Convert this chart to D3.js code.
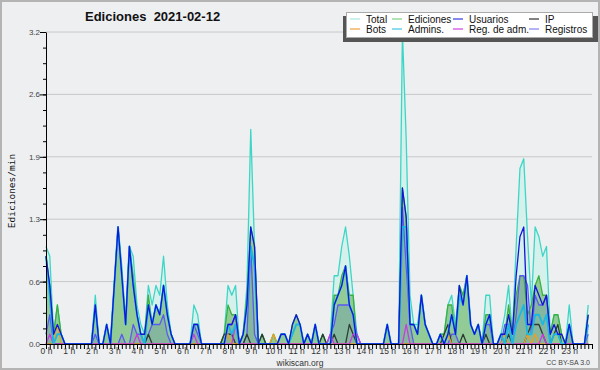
<!DOCTYPE html>
<html>
<head>
<meta charset="utf-8">
<script src="https://cdn.jsdelivr.net/npm/d3@7"></script>
<style>
  body { margin: 0; background: #eeeff1; }
  svg { display: block; }
</style>
</head>
<body>
<div id="container"></div>
<script>
// edits per minute, one value per 10 minutes (144 points), 4 hours per row
var total = [
  1.0,0.9,0.1,0.4,0.1,0, 0,0,0,0,0,0, 0,0.5,0,0,0.2,0, 0.6,1.2,0.8,0.2,1.0,0.9,
  0.4,0.2,0.1,0.6,0.4,0.6, 0.5,0.9,0.4,0.1,0,0, 0,0,0,0.4,0.3,0, 0,0,0,0,0,0.1,
  0.6,0.5,0.6,0,0.1,0.6, 2.2,1.0,0,0.1,0,0, 0.1,0,0.1,0.1,0,0.2, 0.3,0.2,0,0.1,0,0.2,
  0,0.1,0,0.1,0.7,0.7, 1.0,1.2,0.9,0.5,0.1,0, 0,0,0,0,0,0, 0.2,0,0,0,3.2,2.1,
  0.5,0.2,0.2,0.5,0.2,0.1, 0,0,0.1,0.1,0.4,0.5, 0.2,0.6,0.5,0.7,0.2,0.1, 0.2,0,0.5,0.5,0,0,
  0.1,0.3,0.6,0.1,1.0,1.8, 1.9,1.1,0.4,1.2,1.1,0.9, 1.0,0.1,0.3,0.3,0.1,0, 0.4,0,0,0,0,0.4
];
var ediciones = [
  0.9,0.6,0.1,0.4,0.1,0, 0,0,0,0,0,0, 0,0.4,0,0,0.2,0, 0.6,1.2,0.7,0.2,1.0,0.7,
  0.3,0.1,0.1,0.5,0.2,0.4, 0.3,0.6,0.3,0.1,0,0, 0,0,0,0.2,0.2,0, 0,0,0,0,0,0.1,
  0.4,0.3,0.3,0,0.1,0.5, 1.2,1.0,0,0.1,0,0, 0.1,0,0.1,0.1,0,0.2, 0.3,0.2,0,0.1,0,0.2,
  0,0.1,0,0,0.5,0.5, 0.7,0.8,0.5,0.5,0,0, 0,0,0,0,0,0, 0.2,0,0,0,1.6,1.3,
  0.2,0.2,0.1,0.5,0.2,0.1, 0,0,0.1,0.1,0.4,0.4, 0.1,0.6,0.5,0.7,0.2,0.1, 0.2,0,0.3,0.3,0,0,
  0.1,0.1,0.4,0.1,0.5,0.7, 0.7,0.3,0.4,0.6,0.7,0.5, 0.5,0.1,0.3,0.3,0.1,0, 0.2,0,0,0,0,0.3
];
var usuarios = [
  0.9,0.6,0.1,0.2,0.1,0, 0,0,0,0,0,0, 0,0.4,0,0,0.2,0, 0.6,1.2,0.7,0.2,1.0,0.6,
  0.3,0.1,0.1,0.4,0.2,0.4, 0.3,0.6,0.3,0.1,0,0, 0,0,0,0.2,0.2,0, 0,0,0,0,0,0,
  0.2,0.2,0.3,0,0.1,0.4, 1.2,1.0,0,0,0,0, 0,0,0.1,0.1,0,0.2, 0.3,0.2,0,0.1,0,0.2,
  0,0,0,0,0.4,0.5, 0.6,0.8,0.4,0.3,0,0, 0,0,0,0,0,0, 0.2,0,0,0,1.6,1.3,
  0.2,0.2,0.1,0.5,0.2,0.1, 0,0,0.1,0,0.1,0.3, 0.1,0.6,0.4,0.7,0.2,0.1, 0.2,0,0.2,0.3,0,0,
  0.1,0.1,0.3,0.1,0.7,1.1, 1.2,0.2,0.2,0.6,0.5,0.4, 0.5,0.1,0.2,0.1,0.1,0, 0.2,0,0,0,0,0.3
];
var ip = [
  0,0,0,0,0,0, 0,0,0,0,0,0, 0,0,0,0,0,0, 0,0,0,0,0,0,
  0,0,0,0.1,0,0, 0,0,0,0,0,0, 0,0,0,0,0,0, 0,0,0,0,0,0.1,
  0.1,0.1,0,0,0,0.1, 0,0,0,0.1,0,0, 0,0,0,0,0,0, 0,0,0,0,0,0,
  0,0.1,0,0,0.1,0, 0,0,0.2,0.1,0,0, 0,0,0,0,0,0, 0,0,0,0,0,0,
  0,0,0,0,0,0, 0,0,0,0.1,0.2,0, 0,0,0.1,0,0,0, 0,0,0.1,0,0,0,
  0,0,0.1,0,0,0, 0,0.1,0.2,0.2,0.2,0.1, 0,0,0.1,0.2,0,0, 0,0,0,0,0,0
];
var bots = [
  0,0,0,0.2,0,0, 0,0,0,0,0,0, 0,0,0,0,0,0, 0,0,0,0,0,0,
  0,0,0,0,0,0, 0,0,0,0,0,0, 0,0,0,0,0,0, 0,0,0,0,0,0,
  0.1,0,0,0,0,0, 0,0,0,0,0,0, 0.1,0,0,0,0,0, 0,0,0,0,0,0,
  0,0,0,0,0,0, 0,0,0,0,0,0, 0,0,0,0,0,0, 0,0,0,0,0,0,
  0,0,0,0,0,0, 0,0,0,0,0.1,0, 0,0,0,0,0,0, 0,0,0,0,0,0,
  0,0.1,0,0,0,0, 0,0.1,0,0.1,0,0, 0,0,0,0,0,0, 0,0,0,0,0,0
];
var admins = [
  0.9,0.5,0,0.1,0.1,0, 0,0,0,0,0,0, 0,0.4,0,0,0.2,0, 0.6,1.2,0.7,0.2,1.0,0.6,
  0.3,0.1,0,0.4,0.2,0.4, 0.3,0.6,0.3,0.1,0,0, 0,0,0,0.2,0.2,0, 0,0,0,0,0,0,
  0.2,0.1,0.2,0,0.1,0.4, 1.0,0.8,0,0,0,0, 0,0,0.1,0.1,0,0.1, 0.2,0.2,0,0.1,0,0.2,
  0,0,0,0,0.4,0.5, 0.6,0.8,0.4,0.3,0,0, 0,0,0,0,0,0, 0.2,0,0,0,1.2,1.2,
  0.2,0.2,0.1,0.5,0.2,0.1, 0,0,0.1,0,0.1,0.3, 0.1,0.5,0.4,0.7,0.2,0.1, 0.2,0,0.2,0.3,0,0,
  0.1,0,0.2,0,0.2,0.3, 0.4,0.1,0.1,0.3,0.3,0.2, 0.3,0,0.1,0.1,0,0, 0.2,0,0,0,0,0.2
];
var regAdm = [
  0,0.1,0,0,0,0, 0,0,0,0,0,0, 0,0,0,0,0,0, 0,0,0,0,0,0,
  0.1,0,0,0,0,0, 0,0,0,0,0,0, 0,0,0,0.1,0,0, 0,0,0,0,0,0,
  0,0,0.2,0,0,0, 0,0,0,0,0,0, 0,0,0,0,0,0, 0,0,0,0,0,0,
  0,0,0,0.1,0,0, 0,0,0,0.1,0.1,0, 0,0,0,0,0,0, 0,0,0,0,0,0.2,
  0,0,0,0,0,0, 0,0,0,0,0,0, 0,0,0,0,0,0, 0,0,0,0,0,0,
  0,0,0,0,0,0, 0,0,0,0,0,0.1, 0,0,0,0,0,0, 0,0,0,0,0,0
];
var registros = [
  0.1,0.3,0,0,0,0, 0,0,0,0,0,0, 0,0.1,0,0,0,0, 0,0,0.1,0,0,0.2,
  0.1,0.1,0,0.1,0.2,0.2, 0.2,0.3,0.1,0,0,0, 0,0,0,0.2,0.1,0, 0,0,0,0,0,0,
  0.2,0.2,0.3,0,0,0.1, 1.0,0.1,0,0,0,0, 0,0,0,0,0,0, 0,0,0,0,0,0,
  0,0,0,0.1,0.2,0.4, 0.4,0.4,0.4,0.3,0.1,0, 0,0,0,0,0,0, 0,0,0,0,1.4,0.8,
  0.2,0,0,0,0,0, 0,0,0,0,0,0.1, 0.1,0,0,0,0,0, 0,0,0.2,0.2,0,0,
  0,0.2,0.2,0,0.3,0.7, 0.7,0.6,0.1,0.5,0.4,0.4, 0.5,0,0,0,0,0, 0.2,0,0,0,0,0.1
];

var hourLabels = d3.range(24).map(h => h + " h");
var yTicks = [0, 0.64, 1.28, 1.92, 2.56, 3.2];
var legendItems = [
  ["Total", "#a8e8e0"], ["Ediciones", "#80d080"], ["Usuarios", "#3838e0"], ["IP", "#303030"],
  ["Bots", "#f0a040"], ["Admins.", "#40c8e0"], ["Reg. de adm.", "#d040e0"], ["Registros", "#8080f0"]
];

const width = 600, height = 370;
var margin = {top: 32, right: 8, bottom: 26, left: 46};

const svg = d3.select("#container")
  .append("svg")
    .attr("width", width)
    .attr("height", height)
    .style("font-family", "'Liberation Sans', Arial, sans-serif");

svg.append("rect")
  .attr("x", 1).attr("y", 1)
  .attr("width", width - 2).attr("height", height - 2)
  .attr("fill", "#eeeff1")
  .attr("stroke", "#b4b4b4")
  .attr("stroke-width", 2);

const x = d3.scaleLinear()
  .domain([0, 144])
  .range([margin.left, width - margin.right]);

const y = d3.scaleLinear()
  .domain([0, 3.2])
  .range([height - margin.bottom, margin.top]);

// gridlines
svg.append("g")
  .selectAll("line")
  .data(yTicks.slice(1))
  .join("line")
    .attr("x1", x(0)).attr("x2", x(144))
    .attr("y1", d => y(d)).attr("y2", d => y(d))
    .attr("stroke", "#c8c8c8");

const area = d3.area()
  .x((d, i) => x(i))
  .y0(y(0))
  .y1(d => y(d));
const line = d3.line()
  .x((d, i) => x(i))
  .y(d => y(d));

// filled series
svg.append("path").datum(total)
  .attr("d", area).attr("fill", "#d6f1ec");
svg.append("path").datum(ediciones)
  .attr("d", area).attr("fill", "#92cb96");
svg.append("path").datum(registros)
  .attr("d", area).attr("fill", "rgba(60,80,200,0.16)");

// lines
var series = [
  [total, "#3cd6c6", 1.3],
  [ediciones, "#3cb03c", 1.3],
  [registros, "#5a5af0", 1.3],
  [ip, "#2e3a34", 1.3],
  [bots, "#e8a028", 1.3],
  [regAdm, "#c83ce0", 1.3],
  [admins, "#1cb8e4", 1.9],
  [usuarios, "#1414dc", 1.3]
];
series.forEach(s => {
  svg.append("path").datum(s[0])
    .attr("d", line)
    .attr("fill", "none")
    .attr("stroke", s[1])
    .attr("stroke-width", s[2])
    .attr("stroke-linejoin", "round");
});

// x-axis, a tick every 10 minutes
const xAxis = svg.append("g")
  .attr("transform", "translate(0," + y(0) + ")")
  .call(d3.axisBottom(x)
    .tickValues(d3.range(0, 145))
    .tickSize(5)
    .tickFormat(d => d % 6 == 0 && d < 144 ? hourLabels[d / 6] : ""));
xAxis.select(".domain").attr("stroke", "#000");
xAxis.selectAll(".tick line").attr("stroke", "#000");
xAxis.selectAll(".tick text")
  .attr("y", 4)
  .attr("dy", "0.72em")
  .style("font-family", "'Liberation Sans', Arial, sans-serif")
  .style("font-size", "8.5px")
  .attr("fill", "#333");

// y-axis, minor ticks every 0.16
svg.append("g")
  .attr("transform", "translate(" + x(0) + ",0)")
  .call(d3.axisLeft(y).tickValues(d3.range(0, 21).map(k => k * 0.16)).tickSize(3).tickFormat(""))
  .call(g => g.select(".domain").remove());
const yAxis = svg.append("g")
  .attr("transform", "translate(" + x(0) + ",0)")
  .call(d3.axisLeft(y).tickValues(yTicks).tickSize(6).tickSizeOuter(0).tickFormat(d => d.toFixed(1)));
yAxis.select(".domain").attr("stroke", "#000");
yAxis.selectAll(".tick text")
  .attr("x", -6)
  .style("font-family", "'Liberation Sans', Arial, sans-serif")
  .style("font-size", "8px")
  .attr("fill", "#444");

// titles
svg.append("text")
  .attr("x", 85).attr("y", 21)
  .attr("xml:space", "preserve")
  .style("font-size", "13px")
  .style("font-weight", "bold")
  .attr("fill", "#111")
  .text("Ediciones  2021-02-12");

svg.append("text")
  .attr("transform", "translate(15,191)rotate(-90)")
  .attr("text-anchor", "middle")
  .style("font-family", "'DejaVu Sans Mono', monospace")
  .style("font-size", "9.5px")
  .attr("fill", "#111")
  .text("Ediciones/min");

svg.append("text")
  .attr("x", 300).attr("y", 366)
  .attr("text-anchor", "middle")
  .style("font-size", "8.5px")
  .attr("fill", "#333")
  .text("wikiscan.org");

svg.append("text")
  .attr("x", 590).attr("y", 365)
  .attr("text-anchor", "end")
  .style("font-size", "7px")
  .attr("fill", "#444")
  .text("CC BY-SA 3.0");

// legend
const legend = svg.append("g");
legend.append("rect")
  .attr("x", 343).attr("y", 16).attr("width", 255).attr("height", 26)
  .attr("fill", "#555");
legend.append("rect")
  .attr("x", 346.5).attr("y", 12.5).attr("width", 246).attr("height", 25)
  .attr("fill", "#fff").attr("stroke", "#aaa");
var colX = [366, 408, 469, 545];
legendItems.forEach((item, k) => {
  var cx = colX[k % 4], cy = k < 4 ? 19 : 29;
  legend.append("line")
    .attr("x1", cx - 16).attr("x2", cx - 6)
    .attr("y1", cy).attr("y2", cy)
    .attr("stroke", item[1]).attr("stroke-width", 1.2);
  legend.append("text")
    .attr("x", cx).attr("y", cy + 3.5)
    .style("font-size", "10px")
    .attr("fill", "#111")
    .text(item[0]);
});
</script>
</body>
</html>
